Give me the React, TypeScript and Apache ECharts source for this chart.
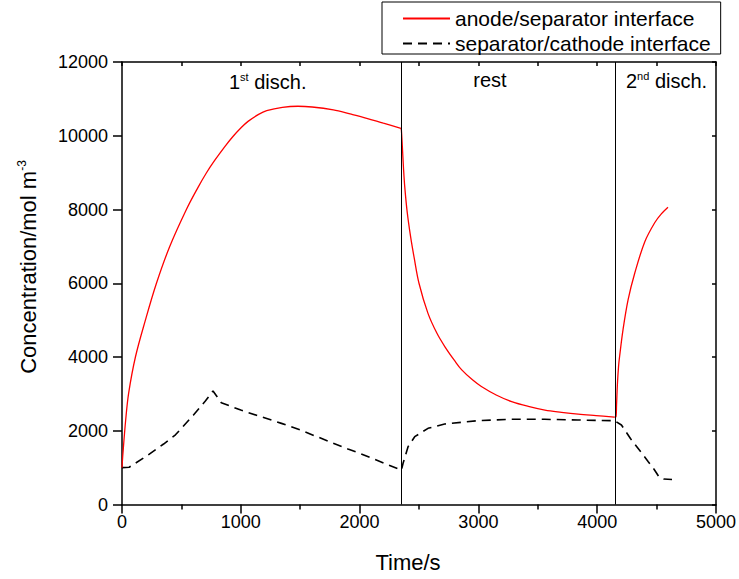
import { useEffect, useRef } from "react";
import * as echarts from "echarts";

const FONT = "'Liberation Sans', Arial, sans-serif";

const seriesNames = ["anode/separator interface", "separator/cathode interface"];

// anode/separator interface (red, solid) — 1st discharge
const red1Time = [
  0, 8, 31, 56, 113, 197, 290, 401, 542, 640, 710, 780, 864, 934, 1000, 1061, 1150, 1218, 1350, 1480, 1600, 1779, 1920,
  2060, 2200, 2348,
];
const red1Conc = [
  1000, 1390, 2290, 3020, 4000, 5000, 6000, 6990, 8000, 8600, 8990, 9330, 9700, 9980, 10210, 10390, 10580, 10680,
  10770, 10800, 10780, 10700, 10590, 10474, 10340, 10203,
];
// rest
const red2Time = [
  2348, 2352, 2360, 2370, 2380, 2400, 2430, 2460, 2500, 2575, 2650, 2720, 2800, 2860, 2950, 3025, 3150, 3280, 3420,
  3560, 3700, 3840, 3990, 4145,
];
const red2Conc = [
  10203, 10150, 9700, 9100, 8620, 7950, 7250, 6680, 6000, 5190, 4650, 4270, 3900, 3650, 3380, 3200, 2970, 2790, 2660,
  2560, 2500, 2450, 2410, 2370,
];
// 2nd discharge
const red3Time = [4145, 4158, 4163, 4170, 4180, 4190, 4217, 4260, 4316, 4400, 4484, 4540, 4596];
const red3Conc = [2370, 2380, 2700, 3250, 3750, 4050, 4730, 5550, 6270, 7120, 7640, 7880, 8060];

// separator/cathode interface (black, dashed)
const blackTime = [
  0, 60, 200, 350, 450, 600, 700, 766, 836, 1000, 1342, 1500, 1902, 2000, 2352, 2366, 2408, 2464, 2576, 2716, 2997,
  3278, 3558, 3838, 4147, 4204, 4280, 4350, 4430, 4480, 4520, 4560, 4630,
];
const blackConc = [
  1000, 1010, 1300, 1640, 1890, 2420, 2800, 3080, 2760, 2560, 2200, 2020, 1505, 1390, 930, 1117, 1568, 1839, 2066,
  2183, 2273, 2310, 2310, 2291, 2273, 2156, 1790, 1500, 1160, 950, 750, 690, 680,
];

const phaseBoundaries = [2350, 4150];

const xMin = 0;
const xMax = 5000;
const xInterval = 1000;
const yMin = 0;
const yMax = 12000;
const yInterval = 2000;

export default function App() {
  const ref = useRef<HTMLDivElement>(null);

  useEffect(() => {
    if (!ref.current) return;
    const chart = echarts.init(ref.current, null, { renderer: "svg" });
    const axisLine = { show: true, onZero: false, lineStyle: { color: "#000", width: 1.5 } };
    const tickLine = { color: "#000", width: 1.5 };
    const supRich = (main: number, sup: number) => ({
      a: { fontSize: main, lineHeight: main + 2, fontFamily: FONT, fill: "#000", color: "#000" },
      b: { fontSize: sup, lineHeight: sup, verticalAlign: "top", fontFamily: FONT, fill: "#000", color: "#000" },
    });
    const plain = (v: number) => String(v);
    const redSeries = (times: number[], concs: number[]) => ({
      name: seriesNames[0],
      type: "line",
      xAxisIndex: 0,
      yAxisIndex: 0,
      symbol: "none",
      smooth: 0.35,
      z: 3,
      data: times.map((t, i) => [t, concs[i]]),
      lineStyle: { color: "#ff0000", width: 1.3 },
      itemStyle: { color: "#ff0000" },
    });

    chart.setOption({
      animation: false,
      backgroundColor: "#fff",
      grid: { left: 122, right: 23, top: 62, bottom: 74.5, containLabel: false },
      legend: {
        show: true,
        orient: "vertical",
        left: 382,
        top: 2,
        itemWidth: 47,
        itemHeight: 14,
        itemGap: 4,
        padding: [6, 10, 0, 20],
        borderColor: "#000",
        borderWidth: 1,
        itemStyle: { opacity: 0 },
        textStyle: { fontSize: 21, color: "#000", fontFamily: FONT },
        data: seriesNames,
      },
      xAxis: [
        {
          type: "value",
          min: xMin,
          max: xMax,
          interval: xInterval,
          position: "bottom",
          axisLine,
          axisTick: { show: true, inside: false, length: 9, lineStyle: tickLine },
          minorTick: { show: true, splitNumber: 2, length: 5, lineStyle: tickLine },
          axisLabel: { color: "#000", fontSize: 18, fontFamily: FONT, margin: 8, formatter: plain },
          splitLine: { show: false },
        },
        {
          type: "value",
          min: xMin,
          max: xMax,
          interval: xInterval / 2,
          position: "top",
          axisLine,
          axisTick: { show: true, inside: true, length: 4, lineStyle: tickLine },
          axisLabel: { show: false },
          splitLine: { show: false },
        },
      ],
      yAxis: [
        {
          type: "value",
          min: yMin,
          max: yMax,
          interval: yInterval,
          position: "left",
          axisLine,
          axisTick: { show: true, inside: false, length: 9, lineStyle: tickLine },
          axisLabel: { color: "#000", fontSize: 18, fontFamily: FONT, margin: 14, formatter: plain },
          splitLine: { show: false },
        },
        {
          type: "value",
          min: yMin,
          max: yMax,
          interval: yInterval,
          position: "right",
          axisLine,
          axisTick: { show: true, inside: true, length: 4, lineStyle: tickLine },
          axisLabel: { show: false },
          splitLine: { show: false },
        },
      ],
      graphic: [
        {
          type: "text",
          x: 229,
          y: 71,
          style: { text: "{a|1}{b|st}{a| disch.}", rich: supRich(20, 11), align: "left", verticalAlign: "top" },
        },
        {
          type: "text",
          x: 490,
          y: 69,
          style: { text: "{a|rest}", rich: supRich(20, 11), align: "center", verticalAlign: "top" },
        },
        {
          type: "text",
          x: 626,
          y: 70,
          style: { text: "{a|2}{b|nd}{a| disch.}", rich: supRich(20, 11), align: "left", verticalAlign: "top" },
        },
        {
          type: "text",
          x: 408,
          y: 551,
          style: { text: "Time/s", fontSize: 22, fontFamily: FONT, fill: "#000", align: "center", verticalAlign: "top" },
        },
        {
          type: "text",
          x: 16,
          y: 267,
          rotation: Math.PI / 2,
          style: {
            text: "{a|Concentration/mol m}{b|-3}",
            rich: supRich(22, 12),
            align: "center",
            verticalAlign: "top",
          },
        },
      ],
      series: [
        redSeries(red1Time, red1Conc),
        redSeries(red2Time, red2Conc),
        redSeries(red3Time, red3Conc),
        {
          name: seriesNames[1],
          type: "line",
          xAxisIndex: 0,
          yAxisIndex: 0,
          symbol: "none",
          z: 2,
          data: blackTime.map((t, i) => [t, blackConc[i]]),
          lineStyle: { color: "#000", width: 1.6, type: [9, 6] },
          itemStyle: { color: "#000" },
          markLine: {
            silent: true,
            symbol: ["none", "none"],
            label: { show: false },
            lineStyle: { color: "#000", width: 1, type: "solid" },
            data: phaseBoundaries.map((v) => ({ xAxis: v })),
          },
        },
      ],
    });
    return () => chart.dispose();
  }, []);

  return (
    <div
      ref={ref}
      style={{ position: "fixed", left: 0, top: 0, width: 739, height: 579, background: "#fff" }}
    />
  );
}
